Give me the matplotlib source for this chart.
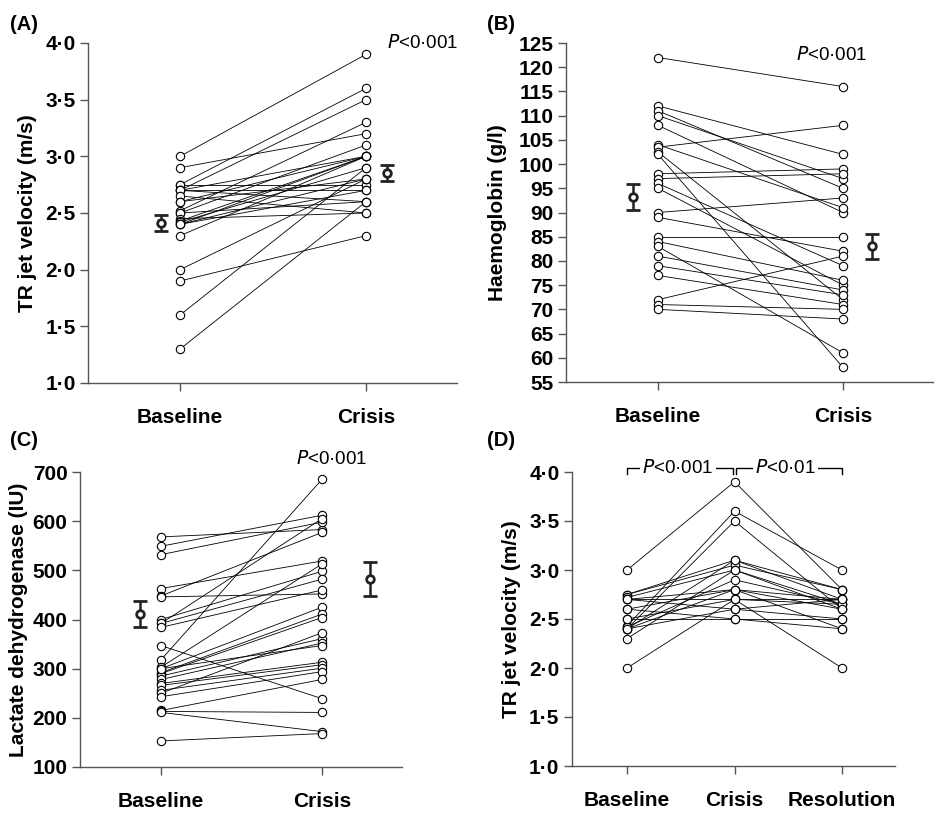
import matplotlib
matplotlib.use("Agg")
import matplotlib.pyplot as plt
import numpy as np

plt.rcParams['font.family'] = ['Liberation Sans', 'DejaVu Sans']

# ---------------- data ----------------
# Panel A: TR jet velocity (m/s), baseline vs crisis
a_baseline = [3.0, 2.9, 2.75, 2.75, 2.7, 2.7, 2.7, 2.7, 2.65, 2.6, 2.6, 2.52, 2.5, 2.5,
              2.45, 2.43, 2.42, 2.4, 2.4, 2.4, 2.3, 2.0, 1.9, 1.6, 1.3]
a_crisis = [3.9, 3.2, 3.6, 2.75, 3.5, 2.7, 3.0, 2.6, 2.5, 3.0, 2.8, 3.3, 3.1, 2.6,
            2.5, 3.0, 2.9, 3.0, 2.7, 2.8, 3.0, 2.8, 2.3, 2.9, 2.6]
a_mean = [2.41, 2.85]
a_err = [0.07, 0.07]

# Panel B: Haemoglobin (g/l)
b_baseline = [122, 112, 111, 110, 108, 104, 103.5, 102.5, 102, 98, 97, 96, 95, 90, 89,
              85, 84, 83, 81, 79, 77, 72, 71, 70]
b_crisis = [116, 102, 95, 97, 90, 91, 108, 72, 58, 99, 98, 79, 75, 93, 82,
            85, 76, 61, 74, 73, 71, 81, 70, 68]
b_mean = [93.2, 83.0]
b_err = [2.6, 2.5]

# Panel C: Lactate dehydrogenase (IU)
c_baseline = [568, 549, 532, 463, 448, 446, 400, 392, 392, 384, 347, 318, 303, 300,
              292, 290, 285, 278, 270, 266, 256, 250, 243, 215, 213, 211, 153, 300]
c_crisis = [583, 612, 598, 519, 577, 452, 498, 605, 482, 460, 239, 685, 513, 425,
            411, 404, 361, 352, 313, 308, 301, 373, 294, 278, 211, 172, 168, 347]
c_mean = [411, 482]
c_err = [27, 34]

# Panel D: TR jet velocity (m/s), baseline / crisis / resolution
d_baseline = [3.0, 2.75, 2.75, 2.72, 2.7, 2.7, 2.7, 2.6, 2.5, 2.43, 2.4, 2.4, 2.4,
              2.42, 2.3, 2.5, 2.4, 2.0, 2.6]
d_crisis = [3.9, 3.1, 3.05, 3.0, 2.8, 2.7, 2.6, 2.8, 2.7, 3.6, 3.5, 3.1, 2.8,
            2.9, 3.0, 2.5, 2.6, 2.7, 2.5]
d_resolution = [2.8, 2.7, 2.8, 2.65, 2.6, 2.7, 2.5, 2.7, 2.65, 3.0, 2.6, 2.8, 2.4,
                2.65, 2.6, 2.5, 2.7, 2.0, 2.4]

cats_2 = ['Baseline', 'Crisis']
cats_3 = ['Baseline', 'Crisis', 'Resolution']

a_ticks = [1.0, 1.5, 2.0, 2.5, 3.0, 3.5, 4.0]
b_ticks = list(range(55, 126, 5))
c_ticks = list(range(100, 701, 100))
d_ticks = [1.0, 1.5, 2.0, 2.5, 3.0, 3.5, 4.0]

# ---------------- style ----------------
SPINE = '#555555'
TICKFS = 15
LABFS = 15
PFS = 13.5


def dot_fmt(v, dec):
    if dec == 0:
        return f"{int(v)}"
    return f"{v:.{dec}f}".replace('.', '\u00b7')


def style_axes(ax, cats, xlim, ticks, ylim, dec, ylabel, labelpad):
    for s in ['top', 'right']:
        ax.spines[s].set_visible(False)
    for s in ['left', 'bottom']:
        ax.spines[s].set_color(SPINE)
        ax.spines[s].set_linewidth(1.0)
    ax.set_xlim(*xlim)
    ax.set_ylim(*ylim)
    ax.set_xticks(range(len(cats)))
    ax.set_xticklabels(cats, fontsize=LABFS, fontweight='bold')
    ax.set_yticks(ticks)
    ax.set_yticklabels([dot_fmt(t, dec) for t in ticks], fontsize=TICKFS, fontweight='bold')
    ax.tick_params(axis='x', length=6, width=1, color=SPINE, pad=12)
    ax.tick_params(axis='y', length=6, width=1, color=SPINE, pad=3)
    ax.set_ylabel(ylabel, fontsize=LABFS, fontweight='bold', labelpad=labelpad)


def draw_series(ax, series):
    xs = np.arange(len(series))
    arr = np.array(series).T
    for row in arr:
        ax.plot(xs, row, color='black', lw=0.6, zorder=2)
    for i, col in enumerate(series):
        ax.plot(np.full(len(col), xs[i]), col, ls='none', marker='o', ms=6,
                mfc='white', mec='black', mew=0.8, zorder=3)


def draw_means(ax, xpos, means, errs):
    for x, m, e in zip(xpos, means, errs):
        ax.errorbar([x], [m], yerr=[e], fmt='o', ms=5.5, mfc='white', mec='#222222',
                    mew=2.0, ecolor='#222222', elinewidth=1.8, capsize=5, capthick=1.8,
                    zorder=4)


fig = plt.figure(figsize=(9.46, 8.14), dpi=100)

# Panel A
axA = fig.add_axes([88/946, 1-383/814, (457-88)/946, 340/814])
style_axes(axA, cats_2, (-0.495, 1.489), a_ticks, (1.0, 4.0), 1, 'TR jet velocity (m/s)', 6)
draw_series(axA, [a_baseline, a_crisis])
draw_means(axA, [-0.10, 1.113], a_mean, a_err)
axA.text(1.11, 4.0, r'$P$' + '<0\u00b7001', fontsize=PFS, ha='left', va='center')

# Panel B
axB = fig.add_axes([566/946, 1-382/814, (933-566)/946, 339/814])
style_axes(axB, cats_2, (-0.497, 1.486), b_ticks, (55, 125), 0, 'Haemoglobin (g/l)', 8)
draw_series(axB, [b_baseline, b_crisis])
draw_means(axB, [-0.135, 1.157], b_mean, b_err)
axB.text(0.746, 122.5, r'$P$' + '<0\u00b7001', fontsize=PFS, ha='left', va='center')

# Panel C
axC = fig.add_axes([80/946, 1-767/814, (402-80)/946, 295/814])
style_axes(axC, cats_2, (-0.503, 1.497), c_ticks, (100, 700), 0, 'Lactate dehydrogenase (IU)', 3)
draw_series(axC, [c_baseline, c_crisis])
draw_means(axC, [-0.13, 1.30], c_mean, c_err)
axC.text(0.84, 726, r'$P$' + '<0\u00b7001', fontsize=PFS, ha='left', va='center',
         clip_on=False)

# Panel D
axD = fig.add_axes([572/946, 1-766/814, (895-572)/946, 294/814])
style_axes(axD, cats_3, (-0.512, 2.493), d_ticks, (1.0, 4.0), 1, 'TR jet velocity (m/s)', 6)
draw_series(axD, [d_baseline, d_crisis, d_resolution])

yb = 4.04
for (x0, x1, xt, txt) in [(0.0, 0.99, 0.474, '<0\u00b7001'), (1.01, 2.0, 1.47, '<0\u00b701')]:
    axD.plot([x0, x0, x1, x1], [yb - 0.06, yb, yb, yb - 0.06], color='black', lw=1.0,
             clip_on=False, zorder=5)
    axD.text(xt, yb + 0.005, r'$P$' + txt, fontsize=PFS, ha='center', va='center',
             zorder=6, bbox=dict(facecolor='white', edgecolor='none', pad=1.5),
             clip_on=False)

# panel letters
for (x, y, t) in [(10, 25, '(A)'), (487, 25, '(B)'), (10, 440, '(C)'), (487, 440, '(D)')]:
    fig.text(x/946, 1-y/814, t, fontsize=14.5, fontweight='bold', ha='left', va='center')

fig.savefig('out.png', dpi=100)
